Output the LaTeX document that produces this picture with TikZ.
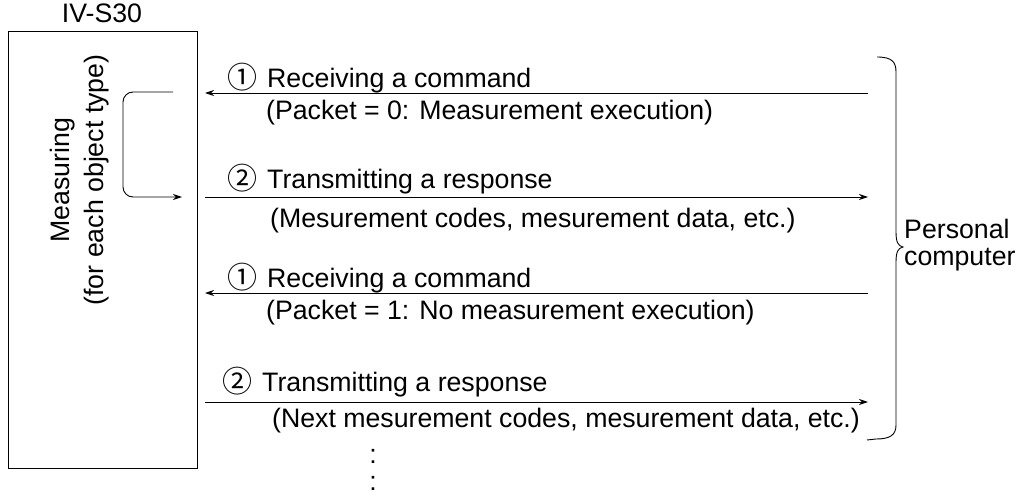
\documentclass[tikz,border=0pt]{standalone}
\usepackage{fontspec}
\setmainfont{Liberation Sans}
\newfontfamily\symfont{Noto Sans CJK JP}
\usetikzlibrary{arrows.meta}
\newcommand{\circno}[1]{\makebox[50pt][c]{\raisebox{-1pt}{\fontsize{30}{30}\symfont #1}}}
\begin{document}
\begin{tikzpicture}[x=1pt,y=-1pt,
  every node/.style={inner sep=0pt,font=\fontsize{26.7}{32}\selectfont},
  msg/.style={line width=0.9pt,-{Stealth[length=9pt,width=6pt]}},
  lbl/.style={anchor=base west}]
\useasboundingbox (0,0) rectangle (1027,495);
% box
\node[draw,line width=0.9pt,minimum width=189pt,minimum height=437pt,anchor=north west] (box) at (8,31) {};
\node[anchor=base] (title) at (102,23) {IV-S30};
\node[rotate=90,align=center,font=\fontsize{26.7}{34}\selectfont] (meas) at (80,180) {Measuring\\(for each object type)};
% loop
\coordinate (l1) at (173,92);
\coordinate (l2) at (182,197);
\draw[msg,rounded corners=10pt] (l1) -- (123,92) -- (123,197) -- (l2);
% PC side coordinates
\coordinate (p1) at (868,93);
\coordinate (b1) at (205,93);
\coordinate (b2) at (205,197);
\coordinate (p2) at (868,197);
\coordinate (p3) at (868,293);
\coordinate (b3) at (205,293);
\coordinate (b4) at (205,402);
\coordinate (p4) at (868,402);
\draw[msg] (p1) -- (b1);
\draw[msg] (b2) -- (p2);
\draw[msg] (p3) -- (b3);
\draw[msg] (b4) -- (p4);
% labels
\node[lbl] (t1) at (217,87) {\circno{①}Receiving a command};
\node[lbl] (s1) at (266,119) {(Packet = 0: Measurement execution)};
\node[lbl] (t2) at (217,188) {\circno{②}Transmitting a response};
\node[lbl] (s2) at (270,227) {(Mesurement codes, mesurement data, etc.)};
\node[lbl] (t3) at (217,287) {\circno{①}Receiving a command};
\node[lbl] (s3) at (266,319) {(Packet = 1: No measurement execution)};
\node[lbl] (t4) at (212,391) {\circno{②}Transmitting a response};
\node[lbl] (s4) at (272,427) {(Next mesurement codes, mesurement data, etc.)};
% brace
\draw[line width=0.9pt] (877,57) .. controls (892,57) and (896,62) .. (896,72)
  -- (896,232) .. controls (896,242) and (898,246) .. (903,247)
  .. controls (898,248) and (896,252) .. (896,262)
  -- (896,425) .. controls (896,435) and (890,439) .. (876,439) -- (867,440);
\node[anchor=west,align=left,font=\fontsize{26.7}{27}\selectfont] (pc) at (904,245) {Personal\\computer};
% dots
\node[anchor=base] (d1) at (373,463) {:};
\node[anchor=base] (d2) at (373,490) {:};
\end{tikzpicture}
\end{document}
